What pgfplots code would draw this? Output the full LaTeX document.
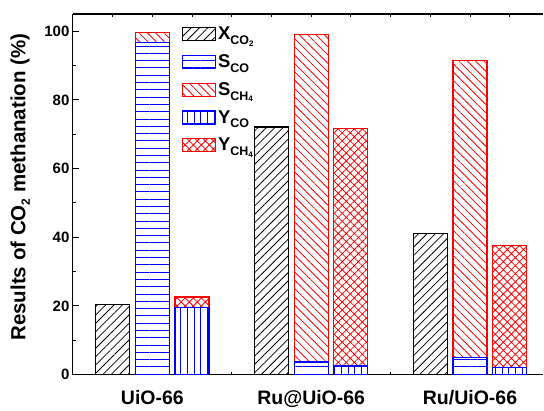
\documentclass[border=0pt]{standalone}
\usepackage{fontspec}
\setmainfont{Liberation Sans}
\usepackage{pgfplots}
\pgfplotsset{compat=1.18}
\usetikzlibrary{patterns.meta}
\newcommand\sub[1]{\raisebox{-0.5ex}{\fontsize{12.5}{12.5}\selectfont #1}}
\newcommand\ssub[1]{\raisebox{-0.25ex}{\fontsize{8}{8}\selectfont #1}}
\pgfplotsset{
  leg/.style={legend image code/.code={\draw[##1] (0pt,-6.5pt) rectangle (33pt,6.5pt);}},
  pX/.style={draw=black, line width=1.2pt, fill=white, postaction={pattern={Lines[angle=45,distance=5.9pt,line width=0.8pt]}, pattern color=black}},
  pSCO/.style={draw=blue, line width=1.2pt, fill=white, postaction={pattern={Lines[angle=0,distance=7.3pt,line width=0.9pt]}, pattern color=blue}},
  pSCH/.style={draw=red, line width=1.2pt, fill=white, postaction={pattern={Lines[angle=-45,distance=5.9pt,line width=0.8pt]}, pattern color=red}},
  pYCO/.style={draw=blue, line width=1.2pt, fill=white, postaction={pattern={Lines[angle=90,distance=6.7pt,line width=0.9pt]}, pattern color=blue}},
  pYCH/.style={draw=red, line width=1.2pt, fill=white, postaction={pattern={Hatch[angle=45,distance=5.7pt,line width=0.8pt]}, pattern color=red}},
}
\begin{document}
\begin{tikzpicture}
\begin{axis}[
  scale only axis, width=471pt, height=361pt,
  xmin=0, xmax=11.85, ymin=0, ymax=105,
  axis x line=box, axis y line=left,
  axis line style={-, line width=1.1pt},
  every outer y axis line/.append style={-},
  ybar, bar width=34pt, bar shift=0pt,
  xtick={1,...,11},
  xticklabels={,UiO-66,,,,Ru@UiO-66,,,,Ru/UiO-66,},
  ytick={0,20,...,100},
  minor y tick num=1,
  tick align=inside,
  major tick length=6pt, minor tick length=3pt,
  xtick style={/pgfplots/major tick length=3pt},
  tick style={line width=0.9pt, black},
  /pgf/number format/assume math mode=true,
  yticklabel style={font=\bfseries\fontsize{15}{15}\selectfont},
  xticklabel style={font=\bfseries\fontsize{19.5}{19.5}\selectfont, yshift=-12pt},
  ylabel={\bfseries Results of CO\raisebox{-0.4ex}{\fontsize{12}{12}\selectfont 2} methanation (\%)},
  every axis y label/.style={at={(axis description cs:-0.112,0.52)}, rotate=90, anchor=center, font=\fontsize{20.5}{20.5}\selectfont},
  legend style={at={(axis description cs:0.229,0.973)}, anchor=north west, draw=none, fill=none,
    font=\bfseries\fontsize{18.5}{18.5}\selectfont, row sep=9.5pt, inner sep=1pt},
  legend cell align=left,
]
\addlegendimage{leg, pX}\addlegendentry{X\sub{CO\ssub{2}}}
\addlegendimage{leg, pSCO}\addlegendentry{S\sub{CO}}
\addlegendimage{leg, pSCH}\addlegendentry{S\sub{CH\ssub{4}}}
\addlegendimage{leg, pYCO}\addlegendentry{Y\sub{CO}}
\addlegendimage{leg, pYCH}\addlegendentry{Y\sub{CH\ssub{4}}}
% X_CO2
\addplot[pX, forget plot] coordinates {(1,20.4) (5,72.1) (9,41.2)};
% S: total (S_CO + S_CH4), then S_CO on top
\addplot[pSCH, forget plot] coordinates {(2,99.6) (6,99.0) (10,91.5)};
\addplot[pSCO, forget plot] coordinates {(2,96.7) (6,3.7) (10,5.0)};
% Y: total (Y_CO + Y_CH4), then Y_CO on top
\addplot[pYCH, forget plot] coordinates {(3,22.6) (7,71.7) (11,37.7)};
\addplot[pYCO, forget plot] coordinates {(3,19.5) (7,2.5) (11,2.0)};
\end{axis}
\path (-73pt,-33pt) rectangle (471pt,375pt);
\end{tikzpicture}
\end{document}
